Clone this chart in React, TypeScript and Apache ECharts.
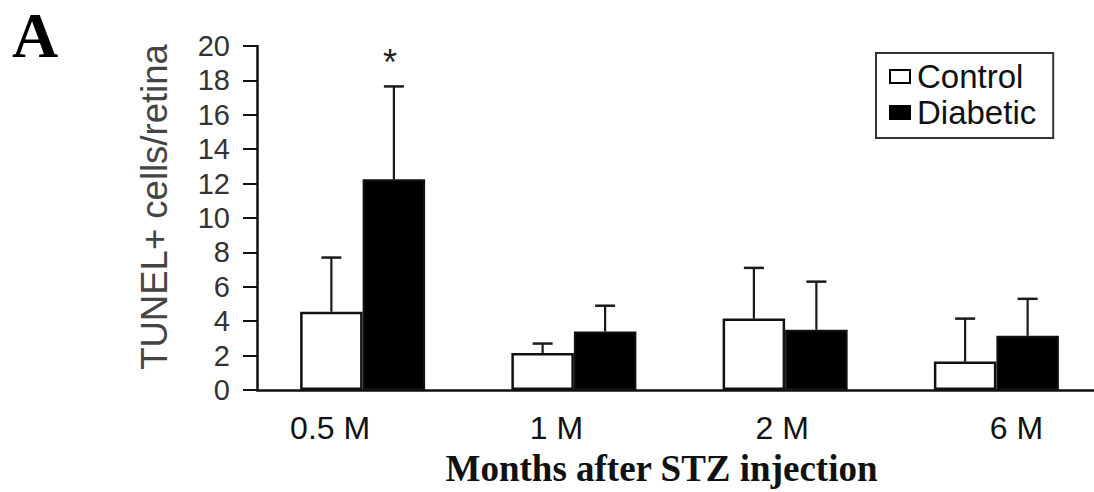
import React, { useEffect, useRef } from "react";
import * as echarts from "echarts";

const categories = ["0.5 M", "1 M", "2 M", "6 M"];
const controlMeans = [4.55, 2.15, 4.15, 1.65];
const controlSD = [3.15, 0.55, 2.95, 2.5];
const diabeticMeans = [12.25, 3.4, 3.5, 3.15];
const diabeticSD = [5.4, 1.5, 2.8, 2.15];
const diabeticMarks = ["*", "", "", ""];
const yMin = 0;
const yMax = 20;
const yStep = 2;

const SANS = "'Liberation Sans', Arial, sans-serif";
const SERIF = "'Liberation Serif', 'Times New Roman', serif";
const BAR_W = 62.5;

// label shifts (pixels) to mimic the reference placement of category labels
const labelPads = [
  [0, 65, 0, 0],
  [0, 35, 0, 0],
  [0, 6, 0, 0],
  [0, 0, 0, 40],
];

function errorSeries(name: string, means: number[], sds: number[], side: number, marks?: string[]) {
  return {
    type: "custom",
    name: name + "-err",
    z: 1,
    silent: true,
    data: means.map((m, i) => [i, m, m + sds[i], marks ? marks[i] : ""]),
    renderItem: (params: any, api: any) => {
      const i = api.value(0);
      const base = api.coord([i, api.value(1)]);
      const top = api.coord([i, api.value(2)]);
      const x = base[0] + side * (BAR_W / 2);
      const children: any[] = [
        {
          type: "line",
          shape: { x1: x, y1: base[1], x2: x, y2: top[1] },
          style: { stroke: "#1a1a1a", lineWidth: 2.2 },
        },
        {
          type: "line",
          shape: { x1: x - 10, y1: top[1], x2: x + 10, y2: top[1] },
          style: { stroke: "#1a1a1a", lineWidth: 2.5 },
        },
      ];
      const mark = api.value(3);
      if (mark) {
        children.push({
          type: "text",
          x: x - 4,
          y: top[1] - 24,
          style: {
            text: String(mark),
            fontSize: 36,
            fontFamily: SANS,
            fill: "#222",
            align: "center",
            verticalAlign: "middle",
          },
        });
      }
      return { type: "group", children };
    },
  };
}

export default function App() {
  const ref = useRef<HTMLDivElement>(null);
  useEffect(() => {
    if (!ref.current) return;
    const chart = echarts.init(ref.current, undefined, { renderer: "svg" });
    chart.setOption({
      animation: false,
      backgroundColor: "#ffffff",
      grid: { left: 257, right: 8, top: 46, bottom: 98.5, containLabel: false },
      legend: {
        orient: "vertical",
        left: 876,
        top: 53,
        padding: [7, 17, 9, 13],
        itemGap: 3,
        itemWidth: 20,
        itemHeight: 13,
        icon: "rect",
        borderColor: "#333",
        borderWidth: 2,
        textStyle: { fontSize: 33, fontFamily: SANS, color: "#111", padding: [0, 0, 0, 2] },
        data: [
          { name: "Control", itemStyle: { color: "#fff", borderColor: "#000", borderWidth: 2 } },
          { name: "Diabetic", itemStyle: { color: "#000", borderColor: "#000", borderWidth: 2 } },
        ],
      },
      xAxis: {
        type: "category",
        data: categories.map((c, i) => ({
          value: c,
          textStyle: { padding: labelPads[i] },
        })),
        axisLine: { show: true, lineStyle: { color: "#111", width: 2.5 } },
        axisTick: { show: false },
        axisLabel: { fontSize: 32, fontFamily: SANS, color: "#111", margin: 22 },
        name: "Months after STZ injection",
        nameLocation: "middle",
        nameGap: 60,
        nameTextStyle: {
          fontSize: 37,
          fontWeight: "bold",
          fontFamily: SERIF,
          color: "#111",
          padding: [0, 36, 0, 0],
        },
      },
      yAxis: {
        type: "value",
        min: yMin,
        max: yMax,
        interval: yStep,
        splitLine: { show: false },
        axisLine: { show: true, lineStyle: { color: "#111", width: 2.5 } },
        axisTick: { show: true, inside: false, length: 14, lineStyle: { color: "#111", width: 2 } },
        axisLabel: { fontSize: 29, fontFamily: SANS, color: "#333", margin: 27 },
        name: "TUNEL+ cells/retina",
        nameLocation: "middle",
        nameRotate: 90,
        nameGap: 84,
        nameTextStyle: {
          fontSize: 36.5,
          fontFamily: SANS,
          color: "#444",
          padding: [0, 0, 0, 22],
        },
      },
      series: [
        {
          name: "Control",
          type: "bar",
          data: controlMeans,
          barWidth: BAR_W,
          barGap: "0%",
          z: 2,
          itemStyle: { color: "#ffffff", borderColor: "#111", borderWidth: 2.5 },
        },
        {
          name: "Diabetic",
          type: "bar",
          data: diabeticMeans,
          barWidth: BAR_W,
          barGap: "0%",
          z: 2,
          itemStyle: { color: "#000000", borderColor: "#111", borderWidth: 2 },
        },
        errorSeries("Control", controlMeans, controlSD, -1),
        errorSeries("Diabetic", diabeticMeans, diabeticSD, 1, diabeticMarks),
      ],
      graphic: [
        {
          type: "text",
          left: 12,
          top: 3,
          style: {
            text: "A",
            fontSize: 64,
            fontWeight: "bold",
            fontFamily: SERIF,
            fill: "#000",
          },
        },
      ],
    });
    return () => chart.dispose();
  }, []);
  return (
    <div
      ref={ref}
      style={{ position: "fixed", left: 0, top: 0, width: 1110, height: 492, background: "#fff" }}
    />
  );
}
